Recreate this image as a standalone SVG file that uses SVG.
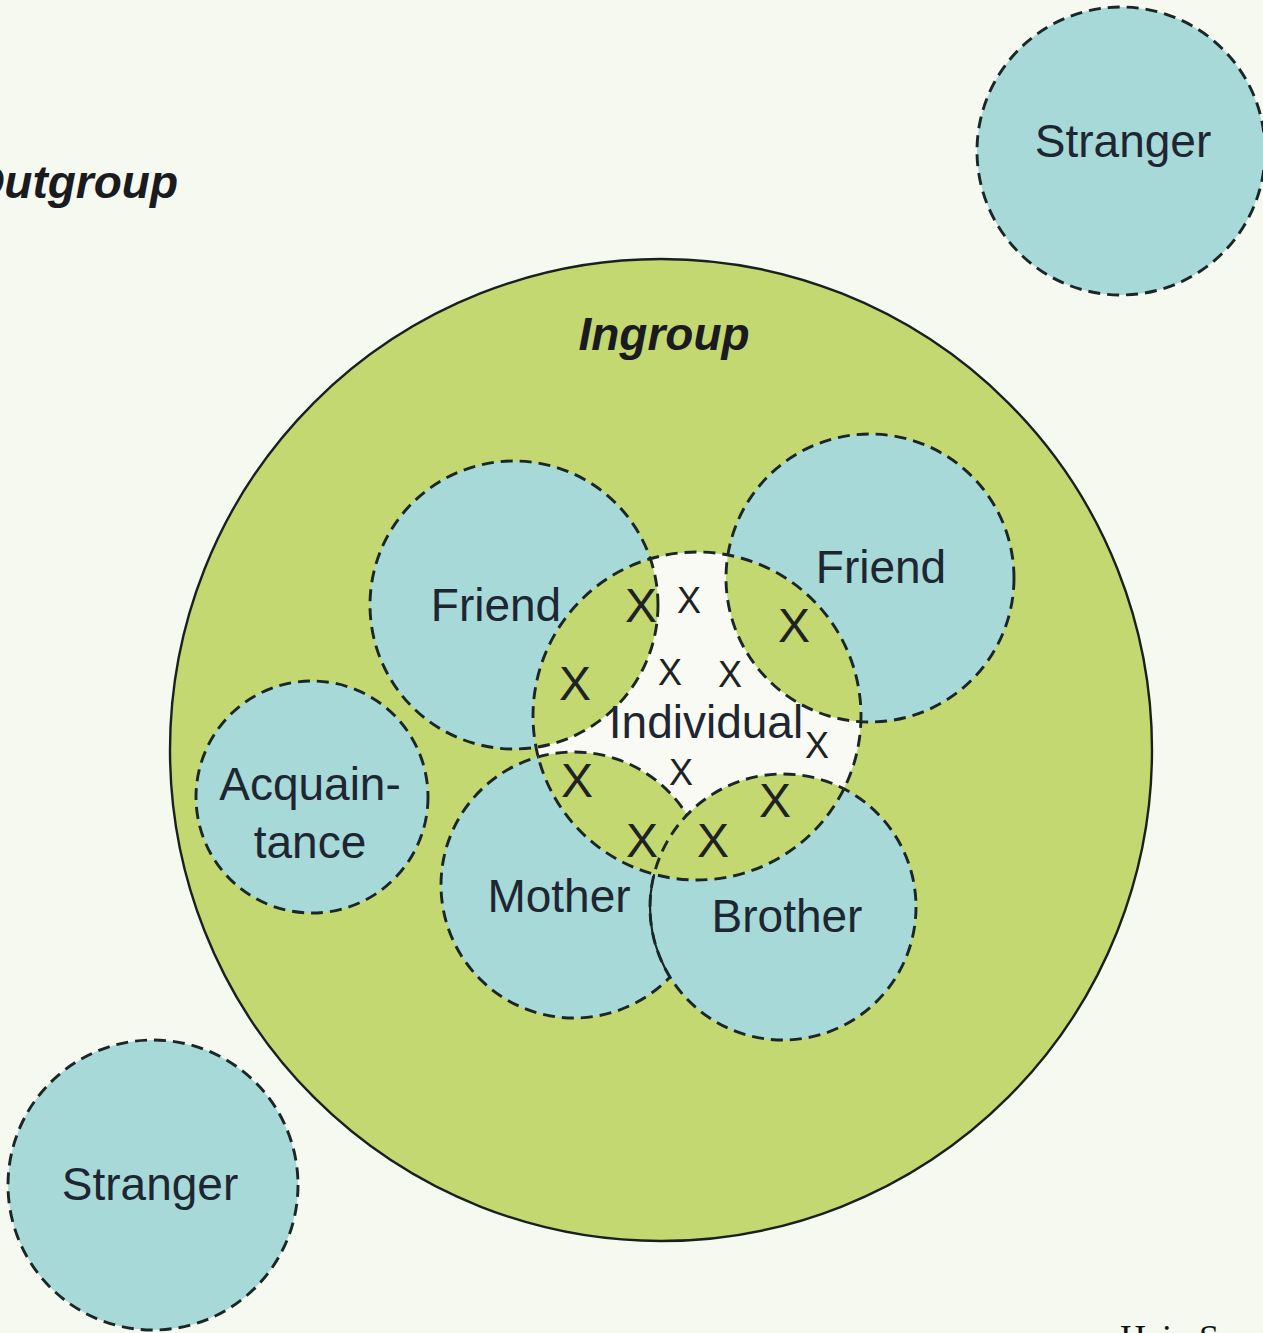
<svg xmlns="http://www.w3.org/2000/svg" width="1263" height="1333" viewBox="0 0 1263 1333">
<style>
.blue{fill:#a7d9d9}
.green{fill:#c3d870}
.dash{fill:none;stroke:#1b2626;stroke-width:2.9;stroke-dasharray:12 7}
.lbl{font-family:"Liberation Sans",Arial,sans-serif;font-size:46px;fill:#1e2632;text-anchor:middle}
.ttl{font-family:"Liberation Sans",Arial,sans-serif;font-size:46px;font-weight:bold;font-style:italic;fill:#1a1a1f}
.bx{font-family:"Liberation Sans",Arial,sans-serif;font-size:48px;fill:#1e2223;text-anchor:middle}
.sx{font-family:"Liberation Sans",Arial,sans-serif;font-size:36px;fill:#1e2223;text-anchor:middle}
</style>
<defs>
<clipPath id="clipInd"><circle cx="697" cy="716" r="164"/></clipPath>
<clipPath id="clipMother"><circle cx="574" cy="885" r="133"/></clipPath>
</defs>
<rect width="1263" height="1333" fill="#f6f9ef"/>

<g id="ingroup">
<circle cx="661" cy="750" r="491" class="green" stroke="#1a2020" stroke-width="2.4"/>
<text x="664" y="350" class="ttl" text-anchor="middle">Ingroup</text>
</g>

<g id="outgroup">
<text x="178" y="198" class="ttl" text-anchor="end">Outgroup</text>
</g>

<g id="stranger-top">
<circle cx="1121" cy="151" r="144" class="blue"/>
<circle cx="1121" cy="151" r="144" class="dash"/>
<text x="1123" y="157" class="lbl">Stranger</text>
</g>

<g id="stranger-bottom">
<circle cx="153" cy="1185" r="145" class="blue"/>
<circle cx="153" cy="1185" r="145" class="dash"/>
<text x="150" y="1200" class="lbl">Stranger</text>
</g>

<g id="acquaintance">
<circle cx="312" cy="797" r="116" class="blue"/>
<circle cx="312" cy="797" r="116" class="dash"/>
<text x="310" y="800" class="lbl">Acquain-</text>
<text x="310" y="858" class="lbl">tance</text>
</g>

<g id="friend-left">
<circle cx="514" cy="605" r="144" class="blue"/>
<circle cx="514" cy="605" r="144" class="dash"/>
</g>

<g id="friend-right">
<circle cx="870" cy="578" r="144" class="blue"/>
<circle cx="870" cy="578" r="144" class="dash"/>
</g>

<g id="mother">
<circle cx="574" cy="885" r="133" class="blue"/>
<circle cx="574" cy="885" r="133" class="dash"/>
</g>

<g id="brother">
<circle cx="783" cy="907" r="133" class="blue"/>
<circle cx="783" cy="907" r="133" class="dash"/>
<circle cx="783" cy="907" r="133" fill="none" stroke="#1b2626" stroke-width="2.2" clip-path="url(#clipMother)"/>
</g>

<g id="individual">
<g clip-path="url(#clipInd)">
<circle cx="697" cy="716" r="164" fill="#f8faf3"/>
<circle cx="514" cy="605" r="144" class="green"/>
<circle cx="514" cy="605" r="144" class="dash"/>
<circle cx="870" cy="578" r="144" class="green"/>
<circle cx="870" cy="578" r="144" class="dash"/>
<circle cx="574" cy="885" r="133" class="green"/>
<circle cx="574" cy="885" r="133" class="dash"/>
<circle cx="783" cy="907" r="133" class="green"/>
<circle cx="783" cy="907" r="133" class="dash"/>
</g>
<circle cx="697" cy="716" r="164" class="dash"/>
<text x="706" y="738" class="lbl">Individual</text>
</g>

<g id="labels">
<text x="496" y="621" class="lbl">Friend</text>
<text x="881" y="583" class="lbl">Friend</text>
<text x="559" y="912" class="lbl">Mother</text>
<text x="787" y="932" class="lbl">Brother</text>
</g>

<g id="marks">
<text x="641" y="622" class="bx">X</text>
<text x="689" y="613" class="sx">X</text>
<text x="794" y="642" class="bx">X</text>
<text x="575" y="700" class="bx">X</text>
<text x="670" y="685" class="sx">X</text>
<text x="730" y="687" class="sx">X</text>
<text x="817" y="758" class="sx">X</text>
<text x="681" y="785" class="sx">X</text>
<text x="577" y="797" class="bx">X</text>
<text x="775" y="817" class="bx">X</text>
<text x="642" y="857" class="bx">X</text>
<text x="713" y="857" class="bx">X</text>
</g>

<text x="1120" y="1350" font-family="'Liberation Serif','Times New Roman',serif" font-size="36" fill="#111">Hain S</text>
</svg>
